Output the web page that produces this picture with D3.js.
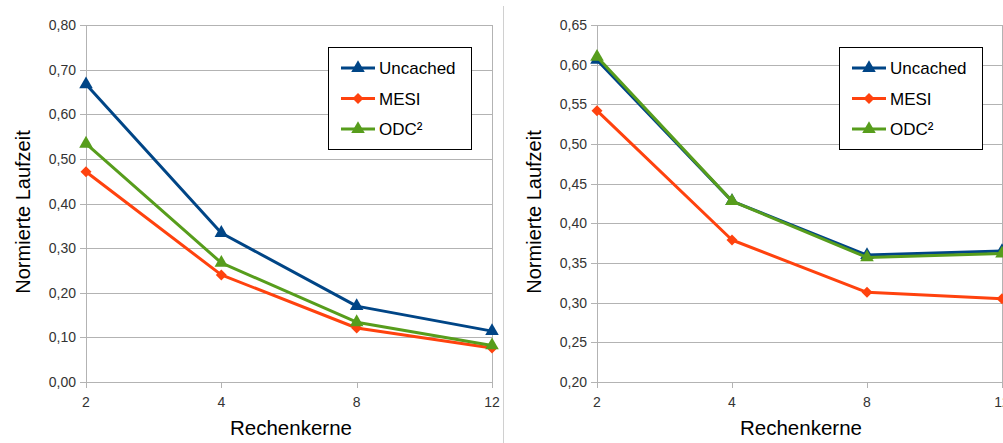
<!DOCTYPE html>
<html>
<head>
<meta charset="utf-8">
<script src="https://cdn.jsdelivr.net/npm/d3@7"></script>
<style>
  body { margin: 0; background: #fff; }
  svg { display: block; font-family: "Liberation Sans", Arial, sans-serif; }
</style>
</head>
<body>
<svg id="chart" width="1003" height="443"></svg>
<script>
// shared categories
const cores = ["2", "4", "8", "12"];
const seriesNames = ["Uncached", "MESI", "ODC²"];
const seriesColors = ["#004586", "#ff420e", "#579d1c"];
const seriesMarkers = ["triangle", "diamond", "triangle"];

// left panel
const leftUncached = [0.667, 0.334, 0.170, 0.114];
const leftMesi = [0.471, 0.240, 0.121, 0.076];
const leftOdc = [0.534, 0.267, 0.134, 0.082];
const leftTicks = [0, 0.1, 0.2, 0.3, 0.4, 0.5, 0.6, 0.7, 0.8];

// right panel
const rightUncached = [0.606, 0.428, 0.360, 0.365];
const rightMesi = [0.542, 0.379, 0.313, 0.305];
const rightOdc = [0.610, 0.428, 0.357, 0.362];
const rightTicks = [0.2, 0.25, 0.3, 0.35, 0.4, 0.45, 0.5, 0.55, 0.6, 0.65];

const svg = d3.select("#chart");
const fmt = (v) => v.toFixed(2).replace(".", ",");

// divider between the two panels
svg.append("line")
  .attr("x1", 503.5).attr("x2", 503.5)
  .attr("y1", 6).attr("y2", 443)
  .attr("stroke", "#d0d0d0").attr("stroke-width", 1);

// markers: triangle, or a square turned by 45 degrees
const tri = d3.symbol().type(d3.symbolTriangle).size(80);
const dia = "M0,-5.5L5.5,0L0,5.5L-5.5,0Z";
const markerPath = (kind) => (kind === "triangle" ? tri() : dia);

function drawPanel(opts) {
  const { x0, x1, y0, y1, domain, ticks, series, legendX, titleX, xTitleX } = opts;
  const g = svg.append("g");

  const x = d3.scalePoint().domain(cores).range([x0, x1]);
  const y = d3.scaleLinear().domain(domain).range([y1, y0]);

  // horizontal grid
  g.selectAll(".grid")
    .data(ticks)
    .join("line")
    .attr("x1", x0 - 6).attr("x2", x1)
    .attr("y1", (d) => Math.round(y(d)) + 0.5)
    .attr("y2", (d) => Math.round(y(d)) + 0.5)
    .attr("stroke", "#b3b3b3").attr("stroke-width", 1);

  // plot area sides
  [x0, x1].forEach((xx) => {
    g.append("line")
      .attr("x1", Math.round(xx) + 0.5).attr("x2", Math.round(xx) + 0.5)
      .attr("y1", y0).attr("y2", y1 + (xx === x0 ? 6 : 0))
      .attr("stroke", "#b3b3b3").attr("stroke-width", 1);
  });

  // x ticks
  g.selectAll(".xt")
    .data(cores)
    .join("line")
    .attr("x1", (d) => Math.round(x(d)) + 0.5)
    .attr("x2", (d) => Math.round(x(d)) + 0.5)
    .attr("y1", y1).attr("y2", y1 + 6)
    .attr("stroke", "#b3b3b3");

  // y tick labels
  g.selectAll(".yl")
    .data(ticks)
    .join("text")
    .attr("x", x0 - 10)
    .attr("y", (d) => y(d) + 5)
    .attr("text-anchor", "end")
    .attr("font-size", 14)
    .attr("fill", "#333")
    .text(fmt);

  // x tick labels
  g.selectAll(".xl")
    .data(cores)
    .join("text")
    .attr("x", (d) => x(d))
    .attr("y", y1 + 25)
    .attr("text-anchor", "middle")
    .attr("font-size", 14)
    .attr("fill", "#333")
    .text((d) => d);

  // axis titles
  g.append("text")
    .attr("transform", `translate(${titleX},212) rotate(-90)`)
    .attr("text-anchor", "middle")
    .attr("font-size", 20)
    .attr("fill", "#000")
    .text("Normierte Laufzeit");

  g.append("text")
    .attr("x", xTitleX)
    .attr("y", 435)
    .attr("text-anchor", "middle")
    .attr("font-size", 20.5)
    .attr("fill", "#000")
    .text("Rechenkerne");

  const line = d3.line()
    .x((d, i) => x(cores[i]))
    .y((d) => y(d));

  // lines + markers, drawn in series order
  series.forEach((vals, si) => {
    g.append("path")
      .datum(vals)
      .attr("fill", "none")
      .attr("stroke", seriesColors[si])
      .attr("stroke-width", 3)
      .attr("stroke-linejoin", "round")
      .attr("d", line);

    g.selectAll(".m" + si)
      .data(vals)
      .join("path")
      .attr("transform", (d, i) => `translate(${x(cores[i])},${y(d)})`)
      .attr("fill", seriesColors[si])
      .attr("d", markerPath(seriesMarkers[si]));
  });

  // legend
  const lg = g.append("g").attr("transform", `translate(${legendX},47)`);
  lg.append("rect")
    .attr("x", 0.5).attr("y", 0.5)
    .attr("width", 143).attr("height", 102)
    .attr("fill", "#fff")
    .attr("stroke", "#000").attr("stroke-width", 1);

  seriesNames.forEach((name, i) => {
    const cy = 21 + i * 30.5;
    lg.append("line")
      .attr("x1", 13).attr("x2", 47)
      .attr("y1", cy).attr("y2", cy)
      .attr("stroke", seriesColors[i]).attr("stroke-width", 3);
    lg.append("path")
      .attr("transform", `translate(30,${cy})`)
      .attr("fill", seriesColors[i])
      .attr("d", markerPath(seriesMarkers[i]));
    lg.append("text")
      .attr("x", 51)
      .attr("y", cy + 6)
      .attr("font-size", 17)
      .attr("fill", "#000")
      .text(name);
  });
}

drawPanel({
  x0: 86, x1: 492, y0: 25, y1: 382,
  domain: [0, 0.8], ticks: leftTicks,
  series: [leftUncached, leftMesi, leftOdc],
  legendX: 328, titleX: 30, xTitleX: 291
});

drawPanel({
  x0: 597, x1: 1002, y0: 25, y1: 382,
  domain: [0.2, 0.65], ticks: rightTicks,
  series: [rightUncached, rightMesi, rightOdc],
  legendX: 839, titleX: 541, xTitleX: 801
});
</script>
</body>
</html>
